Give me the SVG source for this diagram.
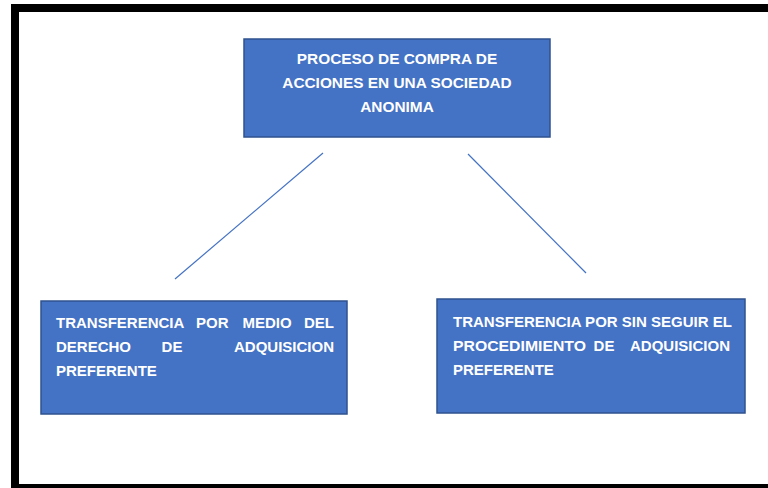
<svg xmlns="http://www.w3.org/2000/svg" width="768" height="488" viewBox="0 0 768 488">
<style>
.box{fill:#4472C4;stroke:#2F528F;stroke-width:1.5}
.t{font-family:"Liberation Sans",Arial,sans-serif;font-weight:bold;fill:#FFFFFF;font-size:15px}
.c{text-anchor:middle;font-size:15.4px}
.e{text-anchor:end}
.m{text-anchor:middle}
.conn{stroke:#4472C4;stroke-width:1.2;fill:none}
</style>
<rect x="0" y="0" width="768" height="488" fill="#FFFFFF"/>
<rect x="15" y="8" width="762" height="480" fill="none" stroke="#000000" stroke-width="8"/>
<g id="connectors">
<line class="conn" x1="323" y1="153" x2="175" y2="279"/>
<line class="conn" x1="468" y1="154" x2="586" y2="273"/>
</g>
<g id="node-top">
<rect class="box" x="244" y="39" width="306" height="98"/>
<text class="t c" x="397" y="64">PROCESO DE COMPRA DE</text>
<text class="t c" x="397" y="88">ACCIONES EN UNA SOCIEDAD</text>
<text class="t c" x="397" y="112">ANONIMA</text>
</g>
<g id="node-left">
<rect class="box" x="41" y="301" width="306" height="113"/>
<text class="t" x="56" y="328">TRANSFERENCIA</text>
<text class="t" x="196" y="328">POR</text>
<text class="t m" x="267" y="328">MEDIO</text>
<text class="t e" x="334" y="328">DEL</text>
<text class="t" x="56" y="352">DERECHO</text>
<text class="t m" x="172" y="352">DE</text>
<text class="t e" x="334" y="352">ADQUISICION</text>
<text class="t" x="56" y="376">PREFERENTE</text>
</g>
<g id="node-right">
<rect class="box" x="437" y="299" width="308" height="114"/>
<text class="t" x="453" y="327" textLength="279" lengthAdjust="spacingAndGlyphs">TRANSFERENCIA POR SIN SEGUIR EL</text>
<text class="t" x="453" y="351" textLength="133" lengthAdjust="spacingAndGlyphs">PROCEDIMIENTO</text>
<text class="t m" x="604" y="351">DE</text>
<text class="t e" x="730" y="351">ADQUISICION</text>
<text class="t" x="453" y="375">PREFERENTE</text>
</g>
</svg>
